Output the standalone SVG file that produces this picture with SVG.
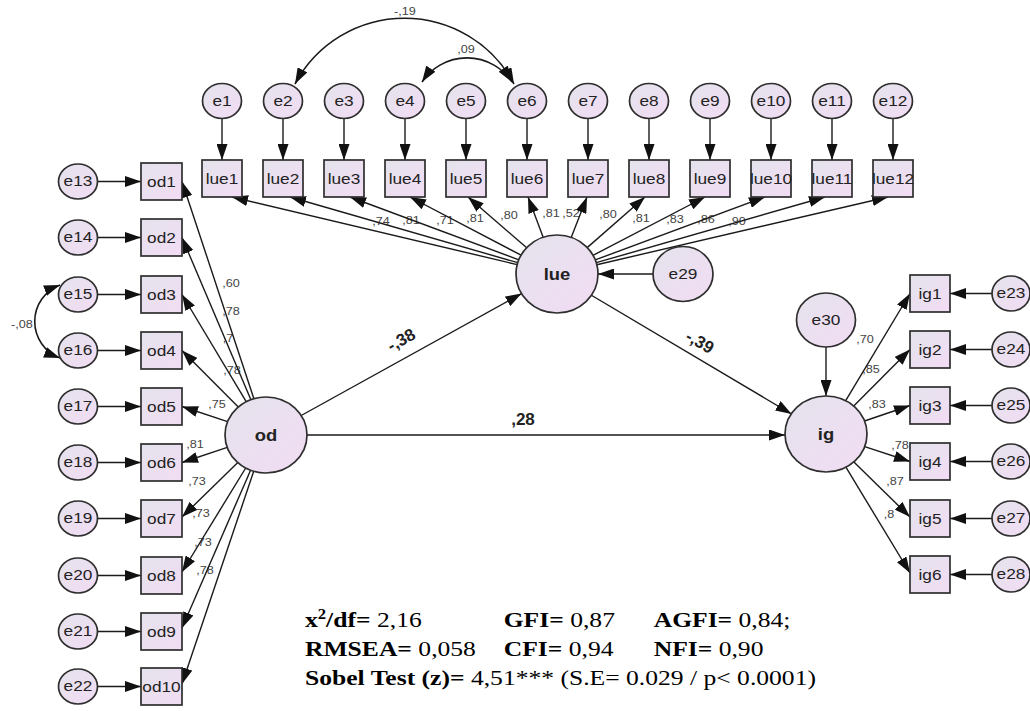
<svg xmlns="http://www.w3.org/2000/svg" width="1030" height="711" viewBox="0 0 1030 711">
<defs>
<linearGradient id="g" x1="0" y1="0" x2="1" y2="1">
<stop offset="0" stop-color="#e4e3ec"/>
<stop offset="1" stop-color="#f2dcf4"/>
</linearGradient>
<marker id="a" markerUnits="userSpaceOnUse" markerWidth="16" markerHeight="11" viewBox="0 0 16 11" refX="16" refY="5.5" orient="auto-start-reverse">
<path d="M0,0 L16,5.5 L0,11 z" fill="#111"/>
</marker>
</defs>
<style>
.n{fill:url(#g);stroke:#2e2e2e;stroke-width:1.7}
.c{stroke:#1a1a1a;stroke-width:1.4;fill:none;marker-end:url(#a)}
.cc{stroke:#1a1a1a;stroke-width:1.6;fill:none;marker-start:url(#a);marker-end:url(#a)}
.t{font-family:"Liberation Sans",Arial,sans-serif;font-size:15px;fill:#222;text-anchor:middle;transform-box:fill-box;transform-origin:center;transform:scaleX(1.15)}
.lv{font-family:"Liberation Sans",Arial,sans-serif;font-size:16px;font-weight:bold;fill:#222;text-anchor:middle;transform-box:fill-box;transform-origin:center;transform:scaleX(1.15)}
.l{font-family:"Liberation Sans",Arial,sans-serif;font-size:11px;fill:#444;text-anchor:middle;transform-box:fill-box;transform-origin:center;transform:scaleX(1.15)}
.b{font-family:"Liberation Sans",Arial,sans-serif;font-size:17px;font-weight:bold;fill:#222;text-anchor:middle}
.f{font-family:"Liberation Serif","Times New Roman",serif;font-size:21.5px;fill:#000}
.fb{font-weight:bold}
</style>

<g id="labels">
<text class="l" x="405" y="15">-,19</text>
<text class="l" x="466" y="53">,09</text>
<text class="l" x="22" y="328">-,08</text>
<text class="l" x="381" y="225">,74</text>
<text class="l" x="411" y="224">,81</text>
<text class="l" x="445" y="224">,71</text>
<text class="l" x="475" y="222">,81</text>
<text class="l" x="509" y="219">,80</text>
<text class="l" x="551" y="217">,81</text>
<text class="l" x="571" y="217">,52</text>
<text class="l" x="608" y="218">,80</text>
<text class="l" x="641" y="222">,81</text>
<text class="l" x="675" y="223">,83</text>
<text class="l" x="706" y="223">,86</text>
<text class="l" x="737" y="225">,90</text>
<text class="l" x="231" y="287">,60</text>
<text class="l" x="231" y="315">,78</text>
<text class="l" x="228" y="342">,7</text>
<text class="l" x="232" y="374">,78</text>
<text class="l" x="217" y="408">,75</text>
<text class="l" x="195" y="448">,81</text>
<text class="l" x="197" y="485">,73</text>
<text class="l" x="201" y="517">,73</text>
<text class="l" x="203" y="546">,73</text>
<text class="l" x="205" y="574">,78</text>
<text class="l" x="865" y="343">,70</text>
<text class="l" x="871" y="373">,85</text>
<text class="l" x="877" y="408">,83</text>
<text class="l" x="900" y="449">,78</text>
<text class="l" x="895" y="485">,87</text>
<text class="l" x="889" y="518">,8</text>
<text class="b" x="404" y="345" transform="rotate(-29 404 345)">-,38</text>
<text class="b" x="697" y="347" transform="rotate(30 697 347)">-,39</text>
<text class="b" x="523" y="425">,28</text>
</g>

<g id="connectors">
<path class="cc" d="M295,84 A124,124 0 0 1 514,84"/>
<path class="cc" d="M422,82 A54,54 0 0 1 512,82"/>
<path class="cc" d="M60,285 A39,39 0 0 0 60,358"/>
<line class="c" x1="222" y1="118.5" x2="222" y2="160"/>
<line class="c" x1="283" y1="118.5" x2="283" y2="160"/>
<line class="c" x1="344" y1="118.5" x2="344" y2="160"/>
<line class="c" x1="405" y1="118.5" x2="405" y2="160"/>
<line class="c" x1="466" y1="118.5" x2="466" y2="160"/>
<line class="c" x1="527" y1="118.5" x2="527" y2="160"/>
<line class="c" x1="588" y1="118.5" x2="588" y2="160"/>
<line class="c" x1="649" y1="118.5" x2="649" y2="160"/>
<line class="c" x1="710" y1="118.5" x2="710" y2="160"/>
<line class="c" x1="771" y1="118.5" x2="771" y2="160"/>
<line class="c" x1="832" y1="118.5" x2="832" y2="160"/>
<line class="c" x1="893" y1="118.5" x2="893" y2="160"/>
<line class="c" x1="97.5" y1="181.5" x2="141" y2="181.5"/>
<line class="c" x1="97.5" y1="237.5" x2="141" y2="237.5"/>
<line class="c" x1="97.5" y1="294.5" x2="141" y2="294.5"/>
<line class="c" x1="97.5" y1="350.5" x2="141" y2="350.5"/>
<line class="c" x1="97.5" y1="406.5" x2="141" y2="406.5"/>
<line class="c" x1="97.5" y1="462.5" x2="141" y2="462.5"/>
<line class="c" x1="97.5" y1="518.5" x2="141" y2="518.5"/>
<line class="c" x1="97.5" y1="575.5" x2="141" y2="575.5"/>
<line class="c" x1="97.5" y1="631.5" x2="141" y2="631.5"/>
<line class="c" x1="97.5" y1="686.5" x2="141" y2="686.5"/>
<line class="c" x1="992" y1="293.5" x2="950" y2="293.5"/>
<line class="c" x1="992" y1="349.5" x2="950" y2="349.5"/>
<line class="c" x1="992" y1="405.5" x2="950" y2="405.5"/>
<line class="c" x1="992" y1="461.5" x2="950" y2="461.5"/>
<line class="c" x1="992" y1="518.5" x2="950" y2="518.5"/>
<line class="c" x1="992" y1="574.5" x2="950" y2="574.5"/>
<line class="c" x1="517.2" y1="264.6" x2="232" y2="197"/>
<line class="c" x1="517.8" y1="262.7" x2="290" y2="197"/>
<line class="c" x1="518.8" y1="259.8" x2="350" y2="197"/>
<line class="c" x1="521.1" y1="255.2" x2="410" y2="197"/>
<line class="c" x1="526.7" y1="247.8" x2="468" y2="197"/>
<line class="c" x1="543.2" y1="237.3" x2="528" y2="197"/>
<line class="c" x1="571.2" y1="237.4" x2="587" y2="197"/>
<line class="c" x1="587.2" y1="247.6" x2="645" y2="197"/>
<line class="c" x1="593" y1="255.3" x2="705" y2="197"/>
<line class="c" x1="595.2" y1="259.9" x2="765" y2="197"/>
<line class="c" x1="596.2" y1="262.7" x2="825" y2="197"/>
<line class="c" x1="596.8" y1="264.7" x2="888" y2="197"/>
<line class="c" x1="253.9" y1="398.7" x2="182" y2="181.5"/>
<line class="c" x1="250.9" y1="399.7" x2="182" y2="237.5"/>
<line class="c" x1="246.2" y1="401.7" x2="182" y2="294.5"/>
<line class="c" x1="238.3" y1="407" x2="182" y2="350.5"/>
<line class="c" x1="227.6" y1="421.7" x2="182" y2="406.5"/>
<line class="c" x1="227.3" y1="447.4" x2="182" y2="462.5"/>
<line class="c" x1="237.8" y1="462.6" x2="182" y2="517"/>
<line class="c" x1="245.7" y1="468" x2="182" y2="572"/>
<line class="c" x1="250.6" y1="470.2" x2="182" y2="628"/>
<line class="c" x1="253.7" y1="471.3" x2="182" y2="684"/>
<line class="c" x1="845.7" y1="400.7" x2="910" y2="293.5"/>
<line class="c" x1="853.7" y1="406" x2="910" y2="349.5"/>
<line class="c" x1="864.5" y1="421" x2="910" y2="405.5"/>
<line class="c" x1="864.7" y1="446.6" x2="910" y2="461.5"/>
<line class="c" x1="853.9" y1="461.9" x2="910" y2="517"/>
<line class="c" x1="845.9" y1="467.2" x2="910" y2="573"/>
<line class="c" x1="301.2" y1="415.5" x2="521.6" y2="293.6"/>
<line class="c" x1="591.8" y1="295.5" x2="791.5" y2="414"/>
<line class="c" x1="307" y1="435" x2="785" y2="435"/>
<line class="c" x1="653" y1="274" x2="598" y2="274"/>
<line class="c" x1="826" y1="347" x2="826" y2="396"/>
</g>

<g id="e1"><ellipse class="n" cx="222" cy="101" rx="19.5" ry="17.5"/><text class="t" x="222" y="106">e1</text></g>
<g id="e2"><ellipse class="n" cx="283" cy="101" rx="19.5" ry="17.5"/><text class="t" x="283" y="106">e2</text></g>
<g id="e3"><ellipse class="n" cx="344" cy="101" rx="19.5" ry="17.5"/><text class="t" x="344" y="106">e3</text></g>
<g id="e4"><ellipse class="n" cx="405" cy="101" rx="19.5" ry="17.5"/><text class="t" x="405" y="106">e4</text></g>
<g id="e5"><ellipse class="n" cx="466" cy="101" rx="19.5" ry="17.5"/><text class="t" x="466" y="106">e5</text></g>
<g id="e6"><ellipse class="n" cx="527" cy="101" rx="19.5" ry="17.5"/><text class="t" x="527" y="106">e6</text></g>
<g id="e7"><ellipse class="n" cx="588" cy="101" rx="19.5" ry="17.5"/><text class="t" x="588" y="106">e7</text></g>
<g id="e8"><ellipse class="n" cx="649" cy="101" rx="19.5" ry="17.5"/><text class="t" x="649" y="106">e8</text></g>
<g id="e9"><ellipse class="n" cx="710" cy="101" rx="19.5" ry="17.5"/><text class="t" x="710" y="106">e9</text></g>
<g id="e10"><ellipse class="n" cx="771" cy="101" rx="19.5" ry="17.5"/><text class="t" x="771" y="106">e10</text></g>
<g id="e11"><ellipse class="n" cx="832" cy="101" rx="19.5" ry="17.5"/><text class="t" x="832" y="106">e11</text></g>
<g id="e12"><ellipse class="n" cx="893" cy="101" rx="19.5" ry="17.5"/><text class="t" x="893" y="106">e12</text></g>

<g id="lue1"><rect class="n" x="202" y="160" width="40" height="37"/><text class="t" x="222" y="184">lue1</text></g>
<g id="lue2"><rect class="n" x="263" y="160" width="40" height="37"/><text class="t" x="283" y="184">lue2</text></g>
<g id="lue3"><rect class="n" x="324" y="160" width="40" height="37"/><text class="t" x="344" y="184">lue3</text></g>
<g id="lue4"><rect class="n" x="385" y="160" width="40" height="37"/><text class="t" x="405" y="184">lue4</text></g>
<g id="lue5"><rect class="n" x="446" y="160" width="40" height="37"/><text class="t" x="466" y="184">lue5</text></g>
<g id="lue6"><rect class="n" x="507" y="160" width="40" height="37"/><text class="t" x="527" y="184">lue6</text></g>
<g id="lue7"><rect class="n" x="568" y="160" width="40" height="37"/><text class="t" x="588" y="184">lue7</text></g>
<g id="lue8"><rect class="n" x="629" y="160" width="40" height="37"/><text class="t" x="649" y="184">lue8</text></g>
<g id="lue9"><rect class="n" x="690" y="160" width="40" height="37"/><text class="t" x="710" y="184">lue9</text></g>
<g id="lue10"><rect class="n" x="751" y="160" width="40" height="37"/><text class="t" x="771" y="184">lue10</text></g>
<g id="lue11"><rect class="n" x="812" y="160" width="40" height="37"/><text class="t" x="832" y="184">lue11</text></g>
<g id="lue12"><rect class="n" x="873" y="160" width="40" height="37"/><text class="t" x="893" y="184">lue12</text></g>

<g id="e13"><ellipse class="n" cx="78" cy="181.5" rx="19.5" ry="17.5"/><text class="t" x="78" y="186.5">e13</text></g>
<g id="e14"><ellipse class="n" cx="78" cy="237.5" rx="19.5" ry="17.5"/><text class="t" x="78" y="242.5">e14</text></g>
<g id="e15"><ellipse class="n" cx="78" cy="294.5" rx="19.5" ry="17.5"/><text class="t" x="78" y="299.5">e15</text></g>
<g id="e16"><ellipse class="n" cx="78" cy="350.5" rx="19.5" ry="17.5"/><text class="t" x="78" y="355.5">e16</text></g>
<g id="e17"><ellipse class="n" cx="78" cy="406.5" rx="19.5" ry="17.5"/><text class="t" x="78" y="411.5">e17</text></g>
<g id="e18"><ellipse class="n" cx="78" cy="462.5" rx="19.5" ry="17.5"/><text class="t" x="78" y="467.5">e18</text></g>
<g id="e19"><ellipse class="n" cx="78" cy="518.5" rx="19.5" ry="17.5"/><text class="t" x="78" y="523.5">e19</text></g>
<g id="e20"><ellipse class="n" cx="78" cy="575.5" rx="19.5" ry="17.5"/><text class="t" x="78" y="580.5">e20</text></g>
<g id="e21"><ellipse class="n" cx="78" cy="631.5" rx="19.5" ry="17.5"/><text class="t" x="78" y="636.5">e21</text></g>
<g id="e22"><ellipse class="n" cx="78" cy="686.5" rx="19.5" ry="17.5"/><text class="t" x="78" y="691.5">e22</text></g>

<g id="od1"><rect class="n" x="141" y="163" width="41" height="37"/><text class="t" x="161.5" y="187">od1</text></g>
<g id="od2"><rect class="n" x="141" y="219" width="41" height="37"/><text class="t" x="161.5" y="243">od2</text></g>
<g id="od3"><rect class="n" x="141" y="276" width="41" height="37"/><text class="t" x="161.5" y="300">od3</text></g>
<g id="od4"><rect class="n" x="141" y="332" width="41" height="37"/><text class="t" x="161.5" y="356">od4</text></g>
<g id="od5"><rect class="n" x="141" y="388" width="41" height="37"/><text class="t" x="161.5" y="412">od5</text></g>
<g id="od6"><rect class="n" x="141" y="444" width="41" height="37"/><text class="t" x="161.5" y="468">od6</text></g>
<g id="od7"><rect class="n" x="141" y="500" width="41" height="37"/><text class="t" x="161.5" y="524">od7</text></g>
<g id="od8"><rect class="n" x="141" y="557" width="41" height="37"/><text class="t" x="161.5" y="581">od8</text></g>
<g id="od9"><rect class="n" x="141" y="613" width="41" height="37"/><text class="t" x="161.5" y="637">od9</text></g>
<g id="od10"><rect class="n" x="141" y="668" width="41" height="37"/><text class="t" x="161.5" y="692">od10</text></g>

<g id="ig1"><rect class="n" x="910" y="275" width="40" height="37"/><text class="t" x="930" y="299">ig1</text></g>
<g id="ig2"><rect class="n" x="910" y="331" width="40" height="37"/><text class="t" x="930" y="355">ig2</text></g>
<g id="ig3"><rect class="n" x="910" y="387" width="40" height="37"/><text class="t" x="930" y="411">ig3</text></g>
<g id="ig4"><rect class="n" x="910" y="443" width="40" height="37"/><text class="t" x="930" y="467">ig4</text></g>
<g id="ig5"><rect class="n" x="910" y="500" width="40" height="37"/><text class="t" x="930" y="524">ig5</text></g>
<g id="ig6"><rect class="n" x="910" y="556" width="40" height="37"/><text class="t" x="930" y="580">ig6</text></g>

<g id="e23"><ellipse class="n" cx="1011" cy="293.5" rx="19" ry="17.5"/><text class="t" x="1011" y="298.5">e23</text></g>
<g id="e24"><ellipse class="n" cx="1011" cy="349.5" rx="19" ry="17.5"/><text class="t" x="1011" y="354.5">e24</text></g>
<g id="e25"><ellipse class="n" cx="1011" cy="405.5" rx="19" ry="17.5"/><text class="t" x="1011" y="410.5">e25</text></g>
<g id="e26"><ellipse class="n" cx="1011" cy="461.5" rx="19" ry="17.5"/><text class="t" x="1011" y="466.5">e26</text></g>
<g id="e27"><ellipse class="n" cx="1011" cy="518.5" rx="19" ry="17.5"/><text class="t" x="1011" y="523.5">e27</text></g>
<g id="e28"><ellipse class="n" cx="1011" cy="574.5" rx="19" ry="17.5"/><text class="t" x="1011" y="579.5">e28</text></g>

<g id="lue"><ellipse class="n" cx="557" cy="274" rx="41" ry="39"/><text class="lv" x="557" y="280">lue</text></g>
<g id="od"><ellipse class="n" cx="266" cy="435" rx="41" ry="38"/><text class="lv" x="266" y="441">od</text></g>
<g id="ig"><ellipse class="n" cx="826" cy="434" rx="41" ry="38"/><text class="lv" x="826" y="440">ig</text></g>
<g id="e29"><ellipse class="n" cx="683" cy="274" rx="30" ry="27.5"/><text class="t" x="683" y="279">e29</text></g>
<g id="e30"><ellipse class="n" cx="826" cy="320" rx="29.5" ry="27"/><text class="t" x="826" y="325">e30</text></g>

<g id="fit" transform="translate(305,0) scale(1.19,1)">
<text class="f" x="0" y="627"><tspan class="fb">x</tspan><tspan class="fb" font-size="14" dy="-8">2</tspan><tspan class="fb" dy="8">/df=</tspan> 2,16</text>
<text class="f" x="167" y="627"><tspan class="fb">GFI=</tspan> 0,87</text>
<text class="f" x="293" y="627"><tspan class="fb">AGFI=</tspan> 0,84;</text>
<text class="f" x="0" y="656"><tspan class="fb">RMSEA=</tspan> 0,058</text>
<text class="f" x="167" y="656"><tspan class="fb">CFI=</tspan> 0,94</text>
<text class="f" x="293" y="656"><tspan class="fb">NFI=</tspan> 0,90</text>
<text class="f" x="0" y="685"><tspan class="fb">Sobel Test (z)=</tspan> 4,51*** (S.E= 0.029 / p&lt; 0.0001)</text>
</g>
</svg>
